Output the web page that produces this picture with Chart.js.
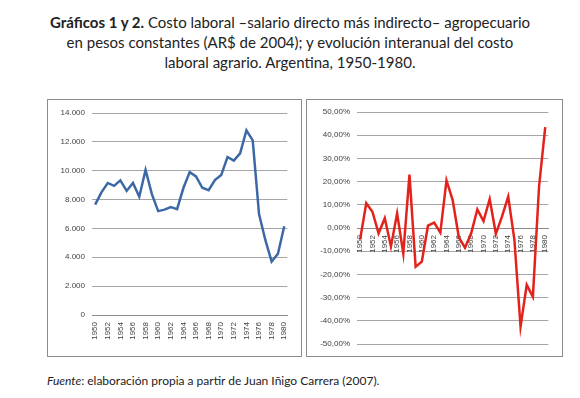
<!DOCTYPE html>
<html>
<head>
<meta charset="utf-8">
<script src="https://cdn.jsdelivr.net/npm/chart.js@4"></script>
<style>
    body { margin: 0; background: #fff; width: 580px; height: 398px; position: relative; overflow: hidden;
           font-family: Lato, "Open Sans", sans-serif; color: #222; }
    #titulo { position: absolute; left: 0; top: 12px; width: 580px; text-align: center; font-size: 15px; line-height: 20px; }
    .caja { position: absolute; top: 99px; border: 1px solid #8c8c8c; }
    #caja1 { left: 47px; }
    #caja2 { left: 306px; }
    canvas { display: block; }
    #fuente { position: absolute; left: 47px; top: 373px; font-size: 12px; }
</style>
</head>
<body>
<div id="titulo"><b>Gráficos 1 y 2.</b> Costo laboral –salario directo más indirecto– agropecuario<br>
en pesos constantes (AR$ de 2004); y evolución interanual del costo<br>
laboral agrario. Argentina, 1950-1980.</div>
<div class="caja" id="caja1"><canvas id="grafico1" width="253" height="256"></canvas></div>
<div class="caja" id="caja2"><canvas id="grafico2" width="255" height="256"></canvas></div>
<div id="fuente"><i>Fuente</i>: elaboración propia a partir de Juan Iñigo Carrera (2007).</div>
<script>
// Years on the horizontal axis
const years = ['1950', '1951', '1952', '1953', '1954', '1955', '1956', '1957', '1958', '1959',
               '1960', '1961', '1962', '1963', '1964', '1965', '1966', '1967', '1968', '1969',
               '1970', '1971', '1972', '1973', '1974', '1975', '1976', '1977', '1978', '1979', '1980'];

// Gráfico 1: costo laboral en AR$ de 2004
const costoLaboral = [7650, 8500, 9150, 8950, 9330, 8600, 9150, 8200, 10050, 8380,
                      7200, 7300, 7480, 7340, 8800, 9900, 9600, 8820, 8650, 9350,
                      9700, 10950, 10700, 11200, 12800, 12100, 7000, 5200, 3700, 4250, 6150];

// Gráfico 2: evolución interanual (%)
const variacion = [-5, 10.7, 7, -2.3, 4.2, -8, 6.3, -11, 23, -16.7,
                   -14.5, 1, 2.3, -2, 20.5, 12, -4, -8.5, -2.3, 8,
                   3, 12.5, -2.5, 5, 13.5, -5, -42.5, -24.5, -29.7, 18, 43.5];

// Tick values of the vertical axes
const ticksCosto = [0, 2000, 4000, 6000, 8000, 10000, 12000, 14000];
const ticksVariacion = [-50, -40, -30, -20, -10, 0, 10, 20, 30, 40, 50];

Chart.defaults.font.family = '"Liberation Sans", Arial, sans-serif';
Chart.defaults.font.size = 8;
Chart.defaults.color = '#404040';

// Spanish number formats: 14.000 and 50,00%
function formatMiles(v) {
    return String(v).replace(/\B(?=(\d{3})+(?!\d))/g, '.');
}
function formatPorcentaje(v) {
    return v.toFixed(2).replace('.', ',') + '%';
}

function crearGrafico(canvasId, valores, color, ticks, formato, ejeX, anchoEjeY, padding) {
    const canvas = document.getElementById(canvasId);
    return new Chart(canvas, {
        type: 'line',
        data: {
            labels: years,
            datasets: [{
                data: valores,
                borderColor: color,
                borderWidth: 2.5,
                pointRadius: 0,
                tension: 0,
                fill: false
            }]
        },
        options: {
            responsive: false,
            animation: false,
            layout: { padding: padding },
            plugins: {
                legend: { display: false },
                tooltip: { enabled: false }
            },
            scales: {
                x: Object.assign({
                    offset: true,
                    grid: { display: false, drawTicks: false },
                    border: { display: true, color: '#8c8c8c', width: 1 },
                    ticks: {
                        autoSkip: false,
                        minRotation: 90,
                        maxRotation: 90,
                        padding: 7,
                        callback: function (value, index) {
                            return index % 2 === 0 ? this.getLabelForValue(value) : '';
                        }
                    }
                }, ejeX),
                y: {
                    min: ticks[0],
                    max: ticks[ticks.length - 1],
                    afterBuildTicks: (scale) => {
                        scale.ticks = ticks.map(v => ({ value: v }));
                    },
                    afterFit: (scale) => {
                        scale.width = anchoEjeY;
                    },
                    grid: { color: '#a6a6a6', lineWidth: 1, drawTicks: false },
                    border: { display: false },
                    ticks: {
                        padding: 7,
                        callback: (v) => formato(v)
                    }
                }
            }
        }
    });
}

crearGrafico('grafico1', costoLaboral, '#3c69a6', ticksCosto, formatMiles,
    { afterFit: (scale) => { scale.height = 41; } },
    44, { top: 13, right: 10, bottom: 0, left: 0 });

crearGrafico('grafico2', variacion, '#e3221c', ticksVariacion, formatPorcentaje,
    { position: { y: 0 } },
    50, { top: 12, right: 10, bottom: 12, left: 0 });
</script>
</body>
</html>
